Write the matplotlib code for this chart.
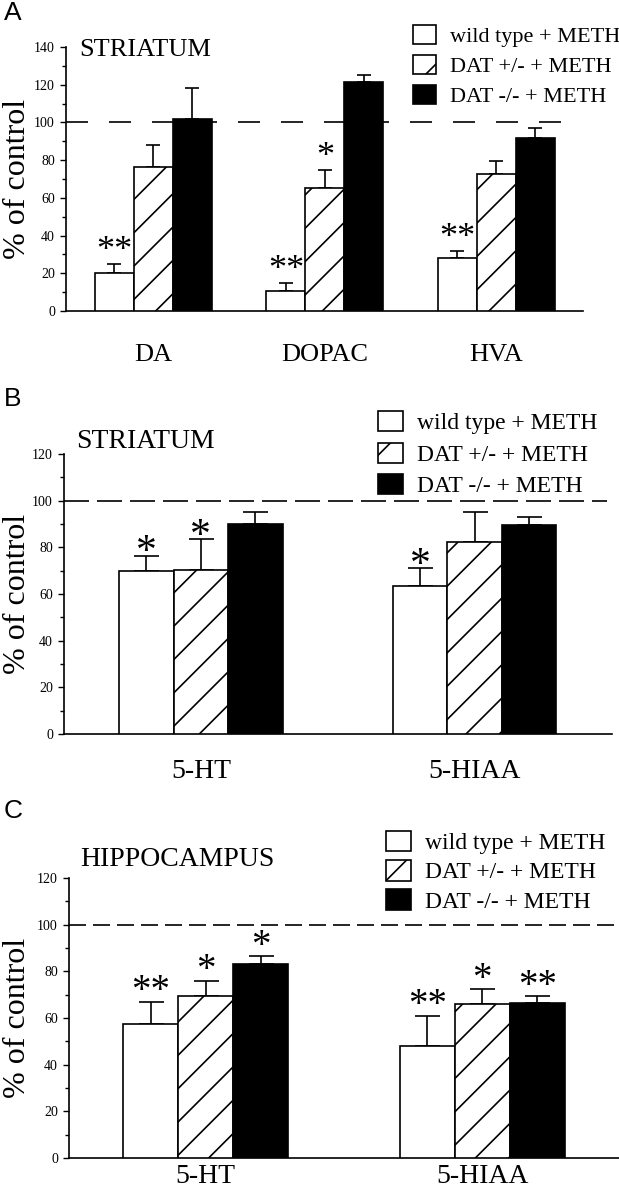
import matplotlib
matplotlib.use("Agg")
import matplotlib.pyplot as plt
import numpy as np
from matplotlib.ticker import MultipleLocator

plt.rcParams['font.family'] = ['Liberation Serif', 'DejaVu Serif']
plt.rcParams['hatch.linewidth'] = 1.2

W, H = 619, 1199

groups = ['wild type + METH', 'DAT +/- + METH', 'DAT -/- + METH']

# panel A - striatum DA metabolites
A_cats = ['DA', 'DOPAC', 'HVA']
A_wt = [20, 10.5, 28]
A_wt_err = [5, 4.5, 4]
A_het = [76.5, 65, 72.5]
A_het_err = [11.5, 10, 7]
A_ko = [102, 121.5, 92]
A_ko_err = [16, 3.5, 5]
A_stars = [['**', '**', '**'], ['', '*', ''], ['', '', '']]

# panel B - striatum 5-HT
B_cats = ['5-HT', '5-HIAA']
B_wt = [70, 63.5]
B_wt_err = [6.5, 7.5]
B_het = [70.5, 82.5]
B_het_err = [13, 12.5]
B_ko = [90, 89.5]
B_ko_err = [5, 3.5]
B_stars = [['*', '*'], ['*', ''], ['', '']]

# panel C - hippocampus 5-HT
C_cats = ['5-HT', '5-HIAA']
C_wt = [57.5, 48]
C_wt_err = [9.5, 13]
C_het = [69.5, 66]
C_het_err = [6.5, 6.5]
C_ko = [83, 66.5]
C_ko_err = [3.5, 3]
C_stars = [['**', '**'], ['*', '*'], ['*', '**']]


def px_axes(fig, left, right, top, bottom):
    return fig.add_axes([left / W, 1 - bottom / H, (right - left) / W, (bottom - top) / H])


def draw_panel(ax, cats, vals, errs, stars, spacing, xlim, ymax, capsize,
               star_size, star_off, dash_end, dashes, label_pad, label_size, ylab_x):
    centers = np.arange(len(cats)) * spacing
    styles = [dict(color='white', hatch=None),
              dict(color='white', hatch='/'),
              dict(color='black', hatch=None)]
    handles = []
    for i in range(3):
        x = centers + (i - 1)
        b = ax.bar(x, vals[i], width=1.0, color=styles[i]['color'], edgecolor='black',
                   linewidth=1.2, hatch=styles[i]['hatch'], zorder=3)
        handles.append(b)
        ax.errorbar(x, vals[i], yerr=[np.zeros(len(cats)), errs[i]], fmt='none',
                    ecolor='black', elinewidth=1.2, capsize=capsize, capthick=1.2, zorder=2)
        for xx, v, e, s in zip(x, vals[i], errs[i], stars[i]):
            if s:
                ax.annotate(s, (xx, v + e), xytext=(0, star_off), textcoords='offset points',
                            ha='center', va='center', fontsize=star_size)
    ax.axhline(100, xmin=0, xmax=dash_end, color='black', linewidth=1.2,
               dashes=dashes, zorder=1)
    ax.set_xlim(*xlim)
    ax.set_ylim(0, ymax)
    ax.set_xticks(centers)
    ax.set_xticklabels(cats, fontsize=label_size)
    ax.tick_params(axis='x', length=0, pad=label_pad)
    ax.yaxis.set_major_locator(MultipleLocator(20))
    ax.yaxis.set_minor_locator(MultipleLocator(10))
    ax.tick_params(axis='y', which='major', length=4, width=1, labelsize=10, pad=4)
    ax.tick_params(axis='y', which='minor', length=3, width=1)
    for sp in ['top', 'right']:
        ax.spines[sp].set_visible(False)
    for sp in ['left', 'bottom']:
        ax.spines[sp].set_linewidth(1.2)
    ax.set_ylabel('% of control', fontsize=23)
    ax.yaxis.set_label_coords(ylab_x, 0.5)
    return handles


fig = plt.figure(figsize=(W / 100, H / 100), dpi=100)

axA = px_axes(fig, 66, 583, 47, 311)
hA = draw_panel(axA, A_cats, [A_wt, A_het, A_ko], [A_wt_err, A_het_err, A_ko_err], A_stars,
                4.4, (-2.24, 11.02), 140, 5, 26, 9, 0.985, (13.2, 12.6), 24, 19, -0.066)
axA.text(79 / W, 1 - 50 / H, 'STRIATUM', transform=fig.transFigure, fontsize=19, va='center')

axB = px_axes(fig, 64, 612, 454, 734)
hB = draw_panel(axB, B_cats, [B_wt, B_het, B_ko], [B_wt_err, B_het_err, B_ko_err], B_stars,
                5.02, (-2.51, 7.54), 120, 9, 30, 2, 0.99, (15, 4.8), 18, 20, -0.058)
axB.text(76 / W, 1 - 442 / H, 'STRIATUM', transform=fig.transFigure, fontsize=20, va='center')

axC = px_axes(fig, 69, 619, 878, 1158)
hC = draw_panel(axC, C_cats, [C_wt, C_het, C_ko], [C_wt_err, C_het_err, C_ko_err], C_stars,
                5.02, (-2.48, 7.5), 120, 9, 28, 7, 1.0, (10.2, 4.2), 4, 20, -0.067)
axC.text(80 / W, 1 - 860 / H, 'HIPPOCAMPUS', transform=fig.transFigure, fontsize=20, va='center')

# legends
for ax, handles, lx, ly, fs, ls in [(axA, hA, 413, 25, 16, 0.35), (axB, hB, 378, 411, 17, 0.35),
                                    (axC, hC, 386, 831, 17, 0.25)]:
    ax.legend(handles, groups, loc='upper left', bbox_to_anchor=(lx / W, 1 - ly / H),
              bbox_transform=fig.transFigure, frameon=False, fontsize=fs, borderpad=0,
              borderaxespad=0, handlelength=1.05, handleheight=0.95, handletextpad=0.6,
              labelspacing=ls)

for letter, y in [('A', 13), ('B', 399), ('C', 811)]:
    fig.text(4 / W, 1 - y / H, letter, fontsize=19, family='Liberation Sans', va='center')

fig.savefig('out.png', dpi=100)
